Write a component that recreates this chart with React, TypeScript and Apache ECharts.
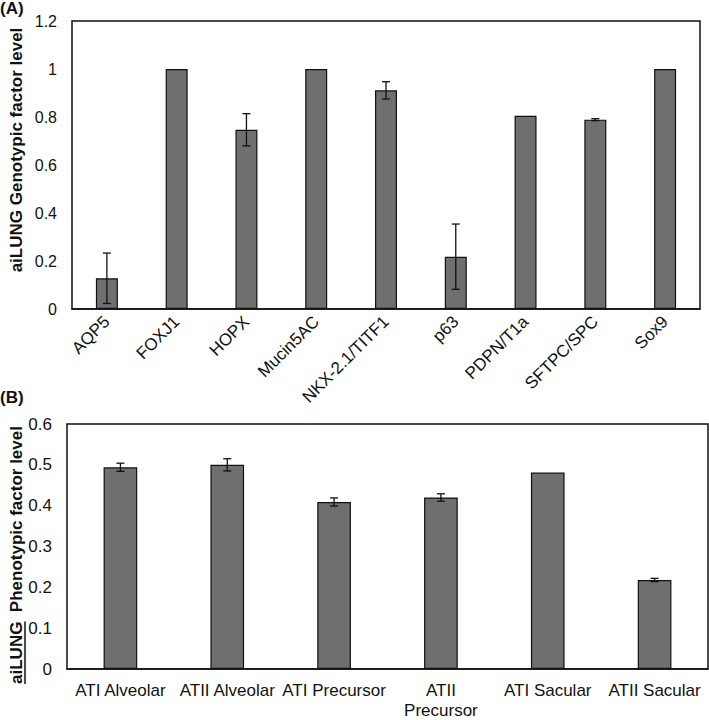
import React, { useEffect, useRef } from "react";
import * as echarts from "echarts";

const genoCategories = ["AQP5", "FOXJ1", "HOPX", "Mucin5AC", "NKX-2.1/TITF1", "p63", "PDPN/T1a", "SFTPC/SPC", "Sox9"];
const genoValues = [0.128, 1, 0.747, 1, 0.911, 0.218, 0.805, 0.789, 1];
const genoErrors = [0.105, 0, 0.067, 0, 0.036, 0.136, 0, 0.004, 0];
const genoTicks = { min: 0, max: 1.2, interval: 0.2 };

const phenoCategories = ["ATI Alveolar", "ATII Alveolar", "ATI Precursor", "ATII\nPrecursor", "ATI Sacular", "ATII Sacular"];
const phenoValues = [0.494, 0.5, 0.409, 0.42, 0.481, 0.218];
const phenoErrors = [0.01, 0.015, 0.01, 0.009, 0, 0.004];
const phenoTicks = { min: 0, max: 0.6, interval: 0.1 };

const FONT = '"Liberation Sans", Arial, Helvetica, sans-serif';
const BAR_COLOR = "#6f6f6f";
const INK = "#111111";

function measure(text: string, font: string): number {
  const ctx = document.createElement("canvas").getContext("2d");
  if (!ctx) return text.length * 9;
  ctx.font = font;
  return ctx.measureText(text).width;
}

function errorData(values: number[], errors: number[]) {
  const out: number[][] = [];
  values.forEach((v, i) => {
    if (errors[i] > 0) out.push([i, v - errors[i], v + errors[i]]);
  });
  return out;
}

function errorRender(params: any, api: any) {
  const x = api.value(0);
  const lo = api.coord([x, api.value(1)]);
  const hi = api.coord([x, api.value(2)]);
  const hw = 4;
  const st = { stroke: INK, lineWidth: 1.3 };
  return {
    type: "group",
    children: [
      { type: "line", shape: { x1: lo[0], y1: lo[1], x2: hi[0], y2: hi[1] }, style: st },
      { type: "line", shape: { x1: lo[0] - hw, y1: lo[1], x2: lo[0] + hw, y2: lo[1] }, style: st },
      { type: "line", shape: { x1: hi[0] - hw, y1: hi[1], x2: hi[0] + hw, y2: hi[1] }, style: st },
    ],
  };
}

const fmt = (v: number) => String(parseFloat(v.toFixed(2)));

export default function App() {
  const ref = useRef<HTMLDivElement>(null);
  useEffect(() => {
    if (!ref.current) return;
    const chart = echarts.init(ref.current, undefined, { renderer: "svg" });

    const titleFont = `bold 17px ${FONT}`;
    const p1 = "aiLUNG";
    const p2 = "Phenotypic factor level";
    const w1 = measure(p1, titleFont);
    const wsp = measure(" ", titleFont);
    const w2 = measure(p2, titleFont);
    const total = w1 + 2 * wsp + w2;
    const start = -total / 2;

    const option: any = {
      animation: false,
      backgroundColor: "#ffffff",
      textStyle: { fontFamily: FONT },
      grid: [
        { left: 72, top: 21, width: 628, height: 288, show: true, borderColor: INK, borderWidth: 1.5, backgroundColor: "transparent" },
        { left: 67, top: 424, width: 641, height: 250, show: true, borderColor: INK, borderWidth: 1.5, backgroundColor: "transparent" },
      ],
      xAxis: [
        {
          type: "category",
          gridIndex: 0,
          data: genoCategories,
          axisTick: { show: false },
          axisLine: { lineStyle: { color: INK, width: 1.5 } },
          axisLabel: { interval: 0, rotate: 45, fontSize: 17, color: INK, margin: 10, fontFamily: FONT },
        },
        {
          type: "category",
          gridIndex: 1,
          data: phenoCategories,
          axisTick: { show: false },
          axisLine: { lineStyle: { color: INK, width: 1.5 } },
          axisLabel: { interval: 0, fontSize: 17, color: INK, margin: 11, lineHeight: 20, fontFamily: FONT },
        },
      ],
      yAxis: [
        {
          type: "value",
          gridIndex: 0,
          min: genoTicks.min,
          max: genoTicks.max,
          interval: genoTicks.interval,
          splitLine: { show: false },
          axisLine: { show: false },
          axisTick: { show: false },
          axisLabel: { fontSize: 16, color: INK, margin: 15, formatter: fmt, fontFamily: FONT },
        },
        {
          type: "value",
          gridIndex: 1,
          min: phenoTicks.min,
          max: phenoTicks.max,
          interval: phenoTicks.interval,
          splitLine: { show: false },
          axisLine: { show: false },
          axisTick: { show: false },
          axisLabel: { fontSize: 17, color: INK, margin: 15, formatter: fmt, fontFamily: FONT },
        },
      ],
      series: [
        {
          type: "bar",
          xAxisIndex: 0,
          yAxisIndex: 0,
          data: genoValues,
          barWidth: "31.5%",
          itemStyle: { color: BAR_COLOR, borderColor: INK, borderWidth: 1.2 },
        },
        {
          type: "custom",
          xAxisIndex: 0,
          yAxisIndex: 0,
          data: errorData(genoValues, genoErrors),
          encode: { x: 0, y: [1, 2] },
          renderItem: errorRender,
          z: 10,
        },
        {
          type: "bar",
          xAxisIndex: 1,
          yAxisIndex: 1,
          data: phenoValues,
          barWidth: "31.5%",
          itemStyle: { color: BAR_COLOR, borderColor: INK, borderWidth: 1.2 },
        },
        {
          type: "custom",
          xAxisIndex: 1,
          yAxisIndex: 1,
          data: errorData(phenoValues, phenoErrors),
          encode: { x: 0, y: [1, 2] },
          renderItem: errorRender,
          z: 10,
        },
      ],
      graphic: [
        {
          type: "text",
          left: 0,
          top: 0,
          style: { text: "(A)", font: `bold 17px ${FONT}`, fill: INK },
        },
        {
          type: "text",
          left: 0,
          top: 389,
          style: { text: "(B)", font: `bold 17px ${FONT}`, fill: INK },
        },
        {
          type: "text",
          x: 16,
          y: 150,
          rotation: Math.PI / 2,
          style: {
            text: "aiLUNG Genotypic factor level",
            font: titleFont,
            fill: INK,
            textAlign: "center",
            textVerticalAlign: "middle",
            align: "center",
            verticalAlign: "middle",
          },
        },
        {
          type: "group",
          x: 16,
          y: 555,
          rotation: Math.PI / 2,
          children: [
            {
              type: "text",
              x: start,
              y: 0,
              style: { text: p1, font: titleFont, fill: INK, textAlign: "left", textVerticalAlign: "middle", align: "left", verticalAlign: "middle" },
            },
            {
              type: "line",
              shape: { x1: start, y1: 9, x2: start + w1, y2: 9 },
              style: { stroke: INK, lineWidth: 1.5 },
            },
            {
              type: "text",
              x: start + w1 + 2 * wsp,
              y: 0,
              style: { text: p2, font: titleFont, fill: INK, textAlign: "left", textVerticalAlign: "middle", align: "left", verticalAlign: "middle" },
            },
          ],
        },
      ],
    };
    chart.setOption(option);
    return () => chart.dispose();
  }, []);
  return <div ref={ref} style={{ position: "fixed", left: 0, top: 0, width: 709, height: 720 }} />;
}
